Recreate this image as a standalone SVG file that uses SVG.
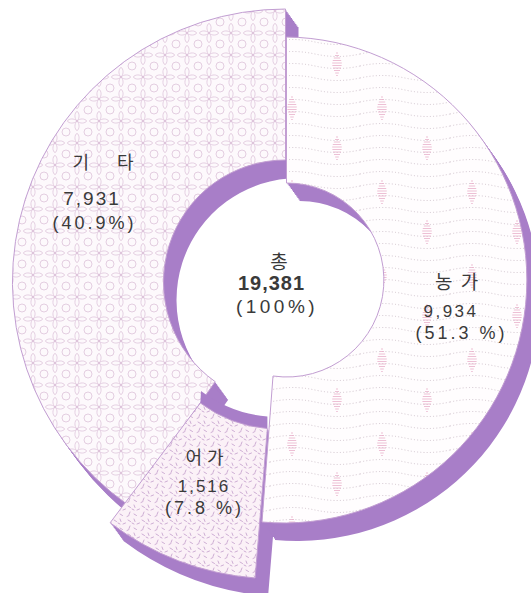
<svg xmlns="http://www.w3.org/2000/svg" width="531" height="593" viewBox="0 0 531 593">
<style>
.wall{fill:#a87ec8}
.face{stroke:#c29ed2;stroke-width:1;stroke-linejoin:round}
.lbl{font-family:"Noto Sans CJK KR","Noto Sans",sans-serif;fill:#3a3a3a;text-anchor:middle}
.num{font-family:"Liberation Sans","Noto Sans CJK KR",sans-serif;fill:#3a3a3a;text-anchor:middle}
</style>
<defs>
<path id="s-kita" d="M285.5 9 A273 273 0 0 0 128.1 505.1 L215.2 381.7 A122 122 0 0 1 285.5 160 Z"/>
<path id="s-nong" d="M286.5 37 A243 243 0 1 1 262 522 L273 376 A97 97 0 1 0 286.5 183 Z"/>
<path id="s-eo" d="M267.4 428.6 A129 129 0 0 1 200.4 403 L110.1 522.8 A279 279 0 0 0 255.1 578 Z"/>
<path id="hatch" d="M-1 -11h2M-2 -8.5h4M-3.2 -6h6.4M-4.2 -3.5h8.4M-4.8 -1h9.6M-4.6 1.5h9.2M-4 4h8M-3 6.5h6M-1.8 9h3.6M-0.8 11.5h1.6"/>
<path id="petal" d="M11 11C8 8 8.5 3 11 1.2C13.5 3 14 8 11 11Z"/>
<pattern id="pat-kita" width="22" height="22" patternUnits="userSpaceOnUse">
<rect width="22" height="22" fill="#fdf9fc"/>
<g fill="none" stroke="#d8bcd5" stroke-width="0.7">
<use href="#petal"/>
<use href="#petal" transform="rotate(90 11 11)"/>
<use href="#petal" transform="rotate(180 11 11)"/>
<use href="#petal" transform="rotate(270 11 11)"/>
<circle cx="0" cy="0" r="4"/><circle cx="22" cy="0" r="4"/><circle cx="0" cy="22" r="4"/><circle cx="22" cy="22" r="4"/>
</g>
</pattern>
<pattern id="pat-nong" width="90" height="84" patternUnits="userSpaceOnUse">
<rect width="90" height="84" fill="#fffdfe"/>
<g fill="none" stroke="#c9bcc6" stroke-width="0.9" stroke-dasharray="1 2.2">
<path d="M0 6 Q22.5 1 45 6 T90 6"/>
<path d="M0 18 Q22.5 13 45 18 T90 18"/>
<path d="M0 30 Q22.5 25 45 30 T90 30"/>
<path d="M0 42 Q22.5 37 45 42 T90 42"/>
<path d="M0 54 Q22.5 49 45 54 T90 54"/>
<path d="M0 66 Q22.5 61 45 66 T90 66"/>
<path d="M0 78 Q22.5 73 45 78 T90 78"/>
</g>
<g stroke="#e9b0ca" stroke-width="0.8">
<use href="#hatch" x="22" y="24"/>
<use href="#hatch" x="67" y="64"/>
</g>
</pattern>
<pattern id="pat-eo" width="14" height="14" patternUnits="userSpaceOnUse">
<rect width="14" height="14" fill="#fbf1f7"/>
<path d="M2 2l2.5 1.5M8 1l1 2.5M11 6l2.5-1M4 8l-1 2.5M8 10l2.5 1.5M1 12.5l2-1M6 5l2 1" stroke="#c7a5cf" stroke-width="0.9" stroke-linecap="round" fill="none"/>
</pattern>
</defs>
<rect width="531" height="593" fill="#ffffff"/>

<g id="node-kita">
<g class="wall">
<use href="#s-kita" x="1.08" y="1.5"/><use href="#s-kita" x="2.17" y="3"/><use href="#s-kita" x="3.25" y="4.5"/><use href="#s-kita" x="4.33" y="6"/><use href="#s-kita" x="5.42" y="7.5"/><use href="#s-kita" x="6.5" y="9"/><use href="#s-kita" x="7.58" y="10.5"/><use href="#s-kita" x="8.67" y="12"/><use href="#s-kita" x="9.75" y="13.5"/><use href="#s-kita" x="10.83" y="15"/><use href="#s-kita" x="11.92" y="16.5"/><use href="#s-kita" x="13" y="18"/>
</g>
<use href="#s-kita" class="face" fill="url(#pat-kita)"/>
<text class="lbl" x="109" y="169" font-size="18" letter-spacing="12">기 타</text>
<text class="num" x="92" y="205" font-size="19" letter-spacing="2">7,931</text>
<text class="num" x="94.5" y="229" font-size="18" letter-spacing="3">(40.9%)</text>
</g>

<g id="node-eo">
<g class="wall">
<use href="#s-eo" x="1.08" y="1.5"/><use href="#s-eo" x="2.17" y="3"/><use href="#s-eo" x="3.25" y="4.5"/><use href="#s-eo" x="4.33" y="6"/><use href="#s-eo" x="5.42" y="7.5"/><use href="#s-eo" x="6.5" y="9"/><use href="#s-eo" x="7.58" y="10.5"/><use href="#s-eo" x="8.67" y="12"/><use href="#s-eo" x="9.75" y="13.5"/><use href="#s-eo" x="10.83" y="15"/><use href="#s-eo" x="11.92" y="16.5"/><use href="#s-eo" x="13" y="18"/>
<path d="M201 391 A129 129 0 0 0 267.4 416.6 L267.4 428.6 A129 129 0 0 1 200.4 403 Z"/>
</g>
<use href="#s-eo" class="face" fill="url(#pat-eo)"/>
<text class="lbl" x="207" y="464" font-size="18" letter-spacing="5">어가</text>
<text class="num" x="204" y="492" font-size="17" letter-spacing="2">1,516</text>
<text class="num" x="204.5" y="514" font-size="18" letter-spacing="3">(7.8 %)</text>
</g>

<g id="node-nong">
<g class="wall">
<use href="#s-nong" x="1.08" y="1.5"/><use href="#s-nong" x="2.17" y="3"/><use href="#s-nong" x="3.25" y="4.5"/><use href="#s-nong" x="4.33" y="6"/><use href="#s-nong" x="5.42" y="7.5"/><use href="#s-nong" x="6.5" y="9"/><use href="#s-nong" x="7.58" y="10.5"/><use href="#s-nong" x="8.67" y="12"/><use href="#s-nong" x="9.75" y="13.5"/><use href="#s-nong" x="10.83" y="15"/><use href="#s-nong" x="11.92" y="16.5"/><use href="#s-nong" x="13" y="18"/>
</g>
<use href="#s-nong" class="face" fill="url(#pat-nong)"/>
<text class="lbl" x="457.5" y="289" font-size="19" letter-spacing="2">농 가</text>
<text class="num" x="451" y="317" font-size="17" letter-spacing="2.5">9,934</text>
<text class="num" x="461.5" y="339" font-size="18" letter-spacing="3">(51.3 %)</text>
</g>

<g id="node-total">
<text class="lbl" x="279" y="269" font-size="19">총</text>
<text class="num" x="271.5" y="290" font-size="20" font-weight="bold" letter-spacing="1">19,381</text>
<text class="num" x="277" y="313" font-size="19" letter-spacing="3.5">(100%)</text>
</g>

<g id="connectors"></g>
</svg>
